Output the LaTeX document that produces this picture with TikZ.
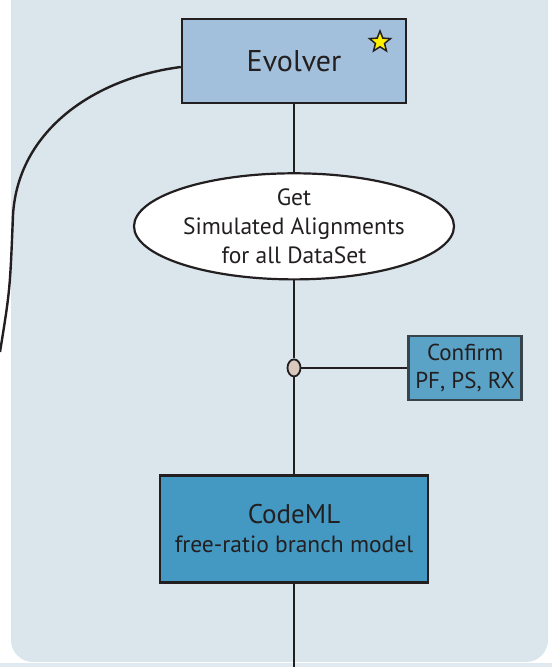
\documentclass[tikz,border=0pt]{standalone}
\usepackage{fontspec}
\setmainfont{PT Sans}
\usetikzlibrary{shapes.geometric, positioning}

\definecolor{panelbg}{HTML}{DAE5EC}
\definecolor{linedark}{HTML}{231F20}
\definecolor{evolverfill}{HTML}{A2C0DC}
\definecolor{confirmfill}{HTML}{5AA2C6}
\definecolor{confirmline}{HTML}{37444E}
\definecolor{codemlfill}{HTML}{4499C3}
\definecolor{junctionfill}{HTML}{D8C8BD}
\definecolor{starfill}{HTML}{FFEF00}

\tikzset{
  program/.style={rectangle, draw=linedark, line width=2.4pt, align=center, text=linedark},
  task/.style={ellipse, draw=linedark, line width=2.2pt, fill=white, align=center, text=linedark,
    inner sep=0pt, minimum width=320pt, minimum height=106pt},
  junction/.style={ellipse, draw=linedark, line width=1.8pt, fill=junctionfill, inner sep=0pt,
    minimum width=13pt, minimum height=17pt},
  link/.style={draw=linedark, line width=2.4pt},
}

\begin{document}
\begin{tikzpicture}[x=1pt, y=-1pt]
\useasboundingbox (0,0) rectangle (552,667);
\fill[panelbg!85!white] (0,663) rectangle (552,667);
\fill[panelbg, rounded corners=22pt] (11,-40) rectangle (548,662);

\node[program, fill=evolverfill, minimum width=224pt, minimum height=84pt,
  font=\fontsize{30}{36}\selectfont] (evolver) at (294,61) {Evolver};
\node[star, star points=5, star point ratio=2.3, draw=linedark, line width=1.5pt, fill=starfill,
  inner sep=0pt, minimum size=22pt] (mark) at (380,42) {};

\node[task, below=68pt of evolver, font=\fontsize{23.5}{29}\selectfont] (simulate)
  {Get\\Simulated Alignments\\for all DataSet};
\node[junction, below=78pt of simulate] (branch) {};
\node[program, fill=confirmfill, draw=confirmline, minimum width=113pt, minimum height=64pt,
  inner sep=2pt, font=\fontsize{23}{28}\selectfont, right=106pt of branch] (confirm)
  {Confirm\\PF, PS, RX};
\node[program, fill=codemlfill, minimum width=268pt, minimum height=107pt,
  below=97pt of branch, font=\fontsize{27}{29}\selectfont] (codeml)
  {CodeML\\{\fontsize{23.5}{29}\selectfont free-ratio branch model}};

\coordinate (bottomend) at (codeml.south |- 0,667);
\coordinate (curvebend) at (13,215);
\coordinate (curveend) at (0,352);

\draw[link] (evolver) -- (simulate);
\draw[link] (simulate) -- (branch);
\draw[link] (branch) -- (confirm);
\draw[link] (branch) -- (codeml);
\draw[link] (codeml) -- (bottomend);
\draw[link] ([yshift=-6pt]evolver.west) .. controls (95,78) and (18,130) .. (curvebend)
  .. controls (10,290) .. (curveend);
\end{tikzpicture}
\end{document}
